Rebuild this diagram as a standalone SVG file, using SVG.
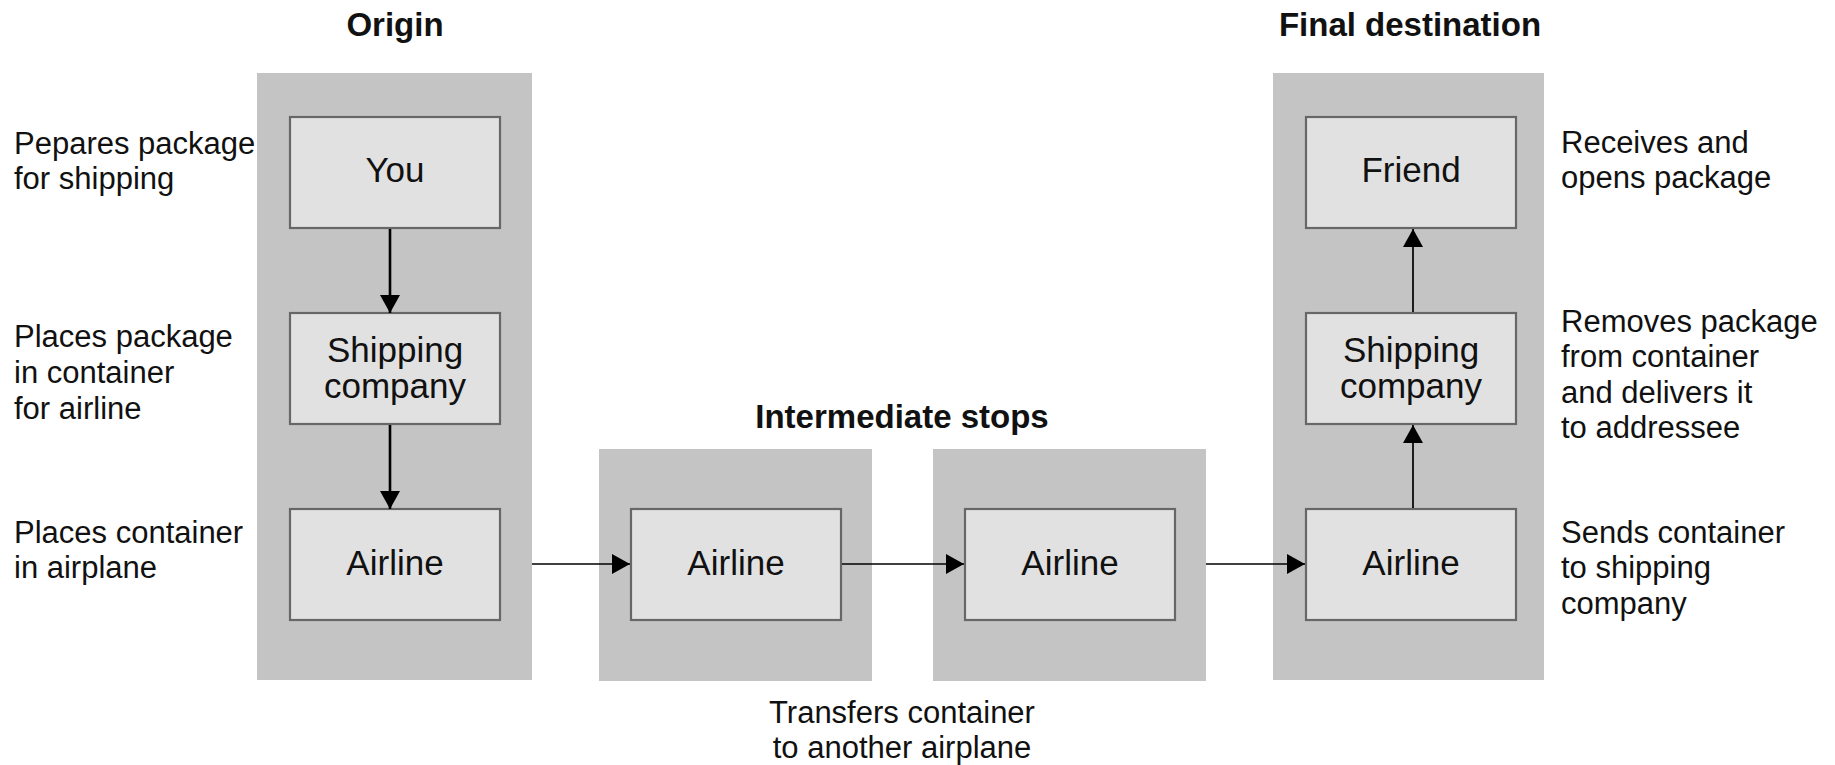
<svg xmlns="http://www.w3.org/2000/svg" width="1835" height="765" viewBox="0 0 1835 765">
<defs>
<marker id="ah" markerUnits="userSpaceOnUse" markerWidth="18" markerHeight="20" refX="18" refY="10" orient="auto">
<path d="M0,0 L18,10 L0,20 z" fill="#000"/>
</marker>
</defs>
<style>
.panel{fill:#c4c4c4}
.box{fill:#e1e1e1;stroke:#676767;stroke-width:2.2}
.title{font-family:"Liberation Sans",Arial,sans-serif;font-weight:bold;font-size:33px;fill:#111;text-anchor:middle}
.bt{font-family:"Liberation Sans",Arial,sans-serif;font-size:35px;fill:#111;text-anchor:middle}
.lbl{font-family:"Liberation Sans",Arial,sans-serif;font-size:31px;fill:#111}
.c{fill:none;stroke:#000;stroke-width:1.7}
.cv{fill:none;stroke:#000;stroke-width:2.6}
</style>
<rect width="1835" height="765" fill="#fff"/>

<g id="origin">
<text class="title" x="395" y="36">Origin</text>
<rect class="panel" x="257" y="73" width="275" height="607"/>
</g>
<g id="intermediate">
<text class="title" x="902" y="428">Intermediate stops</text>
<rect class="panel" x="599" y="449" width="273" height="232"/>
<rect class="panel" x="933" y="449" width="273" height="232"/>
</g>
<g id="final">
<text class="title" x="1410" y="36">Final destination</text>
<rect class="panel" x="1273" y="73" width="271" height="607"/>
</g>

<g id="node-you">
<rect class="box" x="290" y="117" width="210" height="111"/>
<text class="bt" x="395" y="182">You</text>
</g>
<g id="node-shipping-origin">
<rect class="box" x="290" y="313" width="210" height="111"/>
<text class="bt" x="395" y="362">Shipping</text>
<text class="bt" x="395" y="398">company</text>
</g>
<g id="node-airline-origin">
<rect class="box" x="290" y="509" width="210" height="111"/>
<text class="bt" x="395" y="575">Airline</text>
</g>
<g id="node-airline-stop1">
<rect class="box" x="631" y="509" width="210" height="111"/>
<text class="bt" x="736" y="575">Airline</text>
</g>
<g id="node-airline-stop2">
<rect class="box" x="965" y="509" width="210" height="111"/>
<text class="bt" x="1070" y="575">Airline</text>
</g>
<g id="node-friend">
<rect class="box" x="1306" y="117" width="210" height="111"/>
<text class="bt" x="1411" y="182">Friend</text>
</g>
<g id="node-shipping-final">
<rect class="box" x="1306" y="313" width="210" height="111"/>
<text class="bt" x="1411" y="362">Shipping</text>
<text class="bt" x="1411" y="398">company</text>
</g>
<g id="node-airline-final">
<rect class="box" x="1306" y="509" width="210" height="111"/>
<text class="bt" x="1411" y="575">Airline</text>
</g>

<g id="connectors">
<line class="cv" x1="390" y1="229" x2="390" y2="313" marker-end="url(#ah)"/>
<line class="cv" x1="390" y1="425" x2="390" y2="509" marker-end="url(#ah)"/>
<line class="c" x1="532" y1="564" x2="630" y2="564" marker-end="url(#ah)"/>
<line class="c" x1="842" y1="564" x2="964" y2="564" marker-end="url(#ah)"/>
<line class="c" x1="1206" y1="564" x2="1305" y2="564" marker-end="url(#ah)"/>
<line class="c" x1="1413" y1="508" x2="1413" y2="425" marker-end="url(#ah)"/>
<line class="c" x1="1413" y1="312" x2="1413" y2="229" marker-end="url(#ah)"/>
</g>

<g id="labels">
<text class="lbl" x="14" y="154">Pepares package</text>
<text class="lbl" x="14" y="189">for shipping</text>
<text class="lbl" x="14" y="347">Places package</text>
<text class="lbl" x="14" y="383">in container</text>
<text class="lbl" x="14" y="419">for airline</text>
<text class="lbl" x="14" y="543">Places container</text>
<text class="lbl" x="14" y="578">in airplane</text>
<text class="lbl" x="1561" y="153">Receives and</text>
<text class="lbl" x="1561" y="188">opens package</text>
<text class="lbl" x="1561" y="332">Removes package</text>
<text class="lbl" x="1561" y="367">from container</text>
<text class="lbl" x="1561" y="403">and delivers it</text>
<text class="lbl" x="1561" y="438">to addressee</text>
<text class="lbl" x="1561" y="543">Sends container</text>
<text class="lbl" x="1561" y="578">to shipping</text>
<text class="lbl" x="1561" y="614">company</text>
<text class="lbl" x="902" y="723" text-anchor="middle">Transfers container</text>
<text class="lbl" x="902" y="758" text-anchor="middle">to another airplane</text>
</g>
</svg>
